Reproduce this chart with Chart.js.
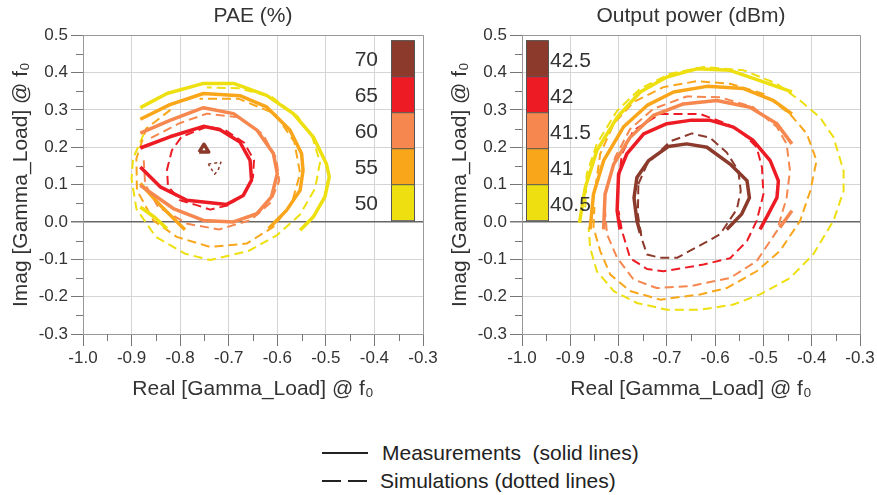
<!DOCTYPE html>
<html>
<head>
<meta charset="utf-8">
<script src="https://cdn.jsdelivr.net/npm/chart.js@4.4.0/dist/chart.umd.min.js"></script>
<style>
  html, body { margin: 0; padding: 0; background: #fff; }
  body { width: 877px; height: 495px; position: relative; overflow: hidden;
         font-family: 'Liberation Sans', Arial, sans-serif; color: #222; }
  .panel { position: absolute; top: 0; height: 410px; }
  #paeWrap { left: 0; width: 440px; }
  #poutWrap { left: 439px; width: 438px; }
  .key-line { position: absolute; border-top: 2px solid #222; }
  .key-text { position: absolute; font-size: 21px; line-height: 24px; white-space: pre; }
</style>
</head>
<body>
<div class="panel" id="paeWrap"><canvas id="paeChart" width="440" height="410"></canvas></div>
<div class="panel" id="poutWrap"><canvas id="poutChart" width="438" height="410"></canvas></div>

<div class="key-line" style="left:322px; top:452px; width:46px;"></div>
<div class="key-text" style="left:382px; top:441px;">Measurements  (solid lines)</div>
<div class="key-line" style="left:322px; top:480px; width:19px;"></div>
<div class="key-line" style="left:348px; top:480px; width:19px;"></div>
<div class="key-text" style="left:380px; top:469px;">Simulations (dotted lines)</div>

<script>
// Colour-bar labels (top to bottom)
const paeLevels = ['70', '65', '60', '55', '50'];
const poutLevels = ['42.5', '42', '41.5', '41', '40.5'];

// PAE contours [Re, Im] - measured (solid) and simulated (dashed)
const pae70Meas = [[-0.761, 0.187], [-0.741, 0.187], [-0.751, 0.208], [-0.761, 0.187]];
const pae70Sim = [[-0.742, 0.155], [-0.716, 0.160], [-0.722, 0.138], [-0.729, 0.128], [-0.742, 0.155]];
const pae65Meas = [[-0.882, 0.198], [-0.821, 0.228], [-0.752, 0.256], [-0.718, 0.247], [-0.677, 0.214], [-0.656, 0.165],
  [-0.653, 0.112], [-0.670, 0.071], [-0.704, 0.047], [-0.786, 0.058], [-0.841, 0.094], [-0.882, 0.147]];
const pae65Sim = [[-0.745, 0.255], [-0.797, 0.228], [-0.817, 0.192], [-0.827, 0.140], [-0.825, 0.095], [-0.800, 0.058],
  [-0.766, 0.045], [-0.738, 0.033], [-0.700, 0.045], [-0.668, 0.075], [-0.650, 0.120], [-0.648, 0.165], [-0.668, 0.212],
  [-0.710, 0.248], [-0.745, 0.255]];
const pae60Meas = [[-0.882, 0.238], [-0.821, 0.272], [-0.752, 0.306], [-0.690, 0.290], [-0.642, 0.246], [-0.608, 0.183],
  [-0.600, 0.129], [-0.612, 0.067], [-0.642, 0.022], [-0.690, 0.000], [-0.752, 0.004], [-0.814, 0.036], [-0.882, 0.098]];
const pae60Sim = [[-0.860, 0.225], [-0.800, 0.265], [-0.745, 0.290], [-0.680, 0.280], [-0.630, 0.235], [-0.602, 0.170],
  [-0.596, 0.110], [-0.615, 0.050], [-0.655, 0.005], [-0.720, -0.020], [-0.785, -0.005], [-0.845, 0.040], [-0.872, 0.100],
  [-0.875, 0.165]];
const pae55Meas = [[-0.882, 0.275], [-0.821, 0.314], [-0.752, 0.344], [-0.677, 0.338], [-0.622, 0.308], [-0.574, 0.246],
  [-0.550, 0.183], [-0.547, 0.138], [-0.553, 0.085], [-0.581, 0.031], [-0.618, -0.018]];
const pae55MeasLow = [[-0.882, 0.103], [-0.841, 0.045], [-0.790, -0.021]];
const pae55Sim = [[-0.820, 0.300], [-0.870, 0.250], [-0.890, 0.170], [-0.889, 0.085], [-0.855, 0.004], [-0.807, -0.040],
  [-0.738, -0.067], [-0.663, -0.058], [-0.608, -0.013], [-0.570, 0.050], [-0.553, 0.130], [-0.565, 0.215], [-0.605, 0.290],
  [-0.680, 0.330], [-0.760, 0.330]];
const pae50Meas = [[-0.882, 0.306], [-0.827, 0.344], [-0.752, 0.371], [-0.690, 0.371], [-0.622, 0.339], [-0.567, 0.290],
  [-0.526, 0.228], [-0.499, 0.156], [-0.493, 0.121], [-0.502, 0.067], [-0.526, 0.013], [-0.553, -0.022]];
const pae50MeasLow = [[-0.882, 0.040], [-0.852, 0.012], [-0.827, -0.018]];
const pae50Sim = [[-0.875, 0.235], [-0.897, 0.170], [-0.900, 0.115], [-0.890, 0.035], [-0.850, -0.040], [-0.790, -0.085],
  [-0.738, -0.102], [-0.660, -0.078], [-0.600, -0.035], [-0.553, 0.020], [-0.522, 0.090], [-0.512, 0.160], [-0.528, 0.228],
  [-0.558, 0.282], [-0.612, 0.335], [-0.680, 0.358], [-0.745, 0.360]];

// Output power contours [Re, Im]
const pout425Meas = [[-0.576, -0.020], [-0.545, 0.021], [-0.529, 0.065], [-0.534, 0.110], [-0.569, 0.155], [-0.617, 0.200],
  [-0.659, 0.209], [-0.697, 0.202], [-0.738, 0.164], [-0.762, 0.119], [-0.768, 0.065], [-0.762, 0.003], [-0.755, -0.030]];
const pout425Sim = [[-0.759, 0.101], [-0.741, 0.155], [-0.693, 0.216], [-0.648, 0.237], [-0.610, 0.225], [-0.576, 0.186],
  [-0.552, 0.137], [-0.547, 0.083], [-0.555, 0.034], [-0.590, -0.033], [-0.620, -0.055], [-0.679, -0.096], [-0.714, -0.096],
  [-0.741, -0.087], [-0.752, -0.045], [-0.760, 0.020], [-0.759, 0.101]];
const pout42Meas = [[-0.797, -0.020], [-0.803, 0.030], [-0.800, 0.128], [-0.783, 0.182], [-0.748, 0.236], [-0.700, 0.263],
  [-0.652, 0.272], [-0.610, 0.272], [-0.562, 0.254], [-0.521, 0.218], [-0.486, 0.164], [-0.469, 0.110], [-0.472, 0.065],
  [-0.490, 0.021], [-0.507, -0.020]];
const pout42Sim = [[-0.800, 0.110], [-0.793, 0.182], [-0.769, 0.245], [-0.714, 0.289], [-0.631, 0.289], [-0.576, 0.263],
  [-0.541, 0.236], [-0.514, 0.200], [-0.503, 0.146], [-0.500, 0.074], [-0.514, 0.003], [-0.534, -0.051], [-0.569, -0.097],
  [-0.624, -0.114], [-0.707, -0.132], [-0.741, -0.126], [-0.776, -0.097], [-0.793, -0.024], [-0.800, 0.030]];
const pout415Meas = [[-0.831, -0.020], [-0.828, 0.074], [-0.810, 0.155], [-0.776, 0.227], [-0.728, 0.285], [-0.666, 0.316],
  [-0.597, 0.325], [-0.528, 0.307], [-0.472, 0.263], [-0.441, 0.209]];
const pout415MeasLow = [[-0.466, -0.015], [-0.441, 0.030]];
const pout415Sim = [[-0.824, 0.092], [-0.807, 0.173], [-0.776, 0.249], [-0.728, 0.303], [-0.659, 0.336], [-0.590, 0.334],
  [-0.521, 0.307], [-0.472, 0.254], [-0.452, 0.209], [-0.445, 0.137], [-0.452, 0.065], [-0.472, -0.024], [-0.514, -0.105],
  [-0.569, -0.150], [-0.652, -0.172], [-0.721, -0.177], [-0.769, -0.154], [-0.803, -0.096], [-0.824, -0.033], [-0.828, 0.030]];
const pout41Meas = [[-0.859, -0.020], [-0.852, 0.074], [-0.831, 0.164], [-0.790, 0.254], [-0.741, 0.312], [-0.686, 0.348],
  [-0.617, 0.363], [-0.541, 0.357], [-0.479, 0.325], [-0.441, 0.289]];
const pout41Sim = [[-0.848, 0.092], [-0.838, 0.182], [-0.810, 0.263], [-0.769, 0.321], [-0.707, 0.361], [-0.638, 0.377],
  [-0.569, 0.370], [-0.500, 0.343], [-0.445, 0.289], [-0.410, 0.236], [-0.390, 0.164], [-0.403, 0.083], [-0.424, 0.003],
  [-0.466, -0.078], [-0.514, -0.132], [-0.576, -0.177], [-0.631, -0.194], [-0.714, -0.208], [-0.776, -0.185],
  [-0.817, -0.141], [-0.838, -0.078], [-0.852, -0.015], [-0.850, 0.040]];
const pout405Meas = [[-0.881, -0.002], [-0.869, 0.092], [-0.845, 0.191], [-0.803, 0.280], [-0.755, 0.348], [-0.700, 0.388],
  [-0.638, 0.410], [-0.569, 0.406], [-0.500, 0.375], [-0.441, 0.348]];
const pout405Sim = [[-0.869, 0.039], [-0.866, 0.128], [-0.845, 0.209], [-0.803, 0.298], [-0.755, 0.357], [-0.693, 0.397],
  [-0.624, 0.415], [-0.541, 0.406], [-0.472, 0.370], [-0.424, 0.325], [-0.383, 0.280], [-0.355, 0.227], [-0.334, 0.137],
  [-0.334, 0.083], [-0.355, 0.003], [-0.397, -0.087], [-0.445, -0.150], [-0.507, -0.194], [-0.562, -0.221],
  [-0.631, -0.235], [-0.700, -0.235], [-0.762, -0.217], [-0.810, -0.185], [-0.845, -0.132], [-0.859, -0.069], [-0.862, -0.015]];

// styles
const levelColors = ['#8b3a2b', '#ed1c24', '#f5874f', '#f9a61a', '#eedf10'];
const FONT = "'Liberation Sans', Arial, sans-serif";
Chart.defaults.font.family = FONT;
Chart.defaults.color = '#333';

function contour(points, color, dashed) {
  return {
    data: points.map(p => ({ x: p[0], y: p[1] })),
    showLine: true,
    borderColor: color,
    borderWidth: dashed ? 2 : 3.5,
    borderDash: dashed ? [9, 5] : [],
    borderJoinStyle: 'round',
    pointRadius: 0,
    fill: false,
    tension: 0
  };
}

// colour bar drawn inside the plot area
const colorbarPlugin = {
  id: 'colorbar',
  afterDatasetsDraw(chart, args, opts) {
    const { ctx, chartArea } = chart;
    const w = opts.side === 'right' ? 23 : 22;
    const h = 36;
    const x0 = opts.side === 'right' ? chartArea.right - 32 : chartArea.left + 4;
    const y0 = chartArea.top + 5;
    ctx.save();
    ctx.font = '21px ' + FONT;
    ctx.textBaseline = 'middle';
    opts.labels.forEach((lab, i) => {
      const y = y0 + i * h;
      ctx.fillStyle = levelColors[i];
      ctx.fillRect(x0, y, w, h);
      ctx.strokeStyle = '#555';
      ctx.lineWidth = 1;
      ctx.strokeRect(x0 + 0.5, y + 0.5, w, h);
      ctx.fillStyle = '#333';
      if (opts.side === 'right') {
        ctx.textAlign = 'right';
        ctx.fillText(lab, x0 - 13, y + h / 2 + 2);
      } else {
        ctx.textAlign = 'left';
        ctx.fillText(lab, x0 + w + 2, y + h / 2 + 3);
      }
    });
    ctx.restore();
  }
};

// short minor ticks between the labelled ones
const minorTicksPlugin = {
  id: 'minorTicks',
  afterDraw(chart) {
    const { ctx, chartArea, scales } = chart;
    const x = scales.x, y = scales.y;
    ctx.save();
    ctx.strokeStyle = '#777';
    ctx.lineWidth = 1;
    ctx.beginPath();
    for (let v = x.min + 0.05; v < x.max; v += 0.1) {
      const px = Math.round(x.getPixelForValue(v)) + 0.5;
      ctx.moveTo(px, chartArea.bottom);
      ctx.lineTo(px, chartArea.bottom + 7);
    }
    for (let v = y.min + 0.05; v < y.max; v += 0.1) {
      const py = Math.round(y.getPixelForValue(v)) + 0.5;
      ctx.moveTo(chartArea.left - 7, py);
      ctx.lineTo(chartArea.left, py);
    }
    ctx.stroke();
    ctx.restore();
  }
};

function gridColor(ctx) {
  if (!ctx.tick) return '#d4d4d4';
  const v = ctx.tick.value;
  if (Math.abs(v) < 1e-9) return '#666';
  const s = ctx.scale;
  if (Math.abs(v - s.max) < 1e-9 || Math.abs(v - s.min) < 1e-9) return '#999';
  return '#d4d4d4';
}

function makeChart(id, title, side, levels, datasets) {
  return new Chart(document.getElementById(id), {
    type: 'scatter',
    data: { datasets: datasets },
    options: {
      responsive: false,
      animation: false,
      layout: { padding: { left: 0, right: 17, top: 0, bottom: 0 } },
      plugins: {
        legend: { display: false },
        tooltip: { enabled: false },
        title: { display: true, text: title, color: '#333', fullSize: false,
                 font: { size: 21, weight: 'normal' }, padding: { top: 4, bottom: 6 } },
        colorbar: { side: side, labels: levels }
      },
      scales: {
        x: {
          type: 'linear', min: -1.0, max: -0.3,
          ticks: { stepSize: 0.1, font: { size: 17 }, color: '#333', padding: 2, maxRotation: 0, autoSkip: false,
                   callback: v => (Math.abs(v) < 1e-9 ? 0 : v).toFixed(1) },
          grid: { color: gridColor, tickColor: '#777', tickLength: 12, lineWidth: ctx => (ctx.tick && Math.abs(ctx.tick.value) < 1e-9 ? 1.5 : 1) },
          border: { color: '#999' },
          title: { display: true, text: 'Real [Gamma_Load] @ f₀', color: '#333', font: { size: 21 },
                   padding: { top: 0, bottom: 8 } },
          afterFit: s => { s.height = 76; }
        },
        y: {
          type: 'linear', min: -0.3, max: 0.5,
          ticks: { stepSize: 0.1, font: { size: 17 }, color: '#333', padding: 3, autoSkip: false,
                   callback: v => (Math.abs(v) < 1e-9 ? 0 : v).toFixed(1) },
          grid: { color: gridColor, tickColor: '#777', tickLength: 12,
                  lineWidth: ctx => (ctx.tick && Math.abs(ctx.tick.value) < 1e-9 ? 1.5 : 1) },
          border: { color: '#999' },
          title: { display: true, text: 'Imag [Gamma_Load] @ f₀', color: '#333', font: { size: 21 },
                   padding: { top: 9, bottom: 0 } },
          afterFit: s => { s.width = 83; }
        }
      }
    },
    plugins: [colorbarPlugin, minorTicksPlugin]
  });
}

// solid (measured) first so they are drawn on top of the dashed ones
const [cBrown, cRed, cSalmon, cOrange, cYellow] = levelColors;

makeChart('paeChart', 'PAE (%)', 'right', paeLevels, [
  contour(pae70Meas, cBrown, false),
  contour(pae65Meas, cRed, false),
  contour(pae60Meas, cSalmon, false),
  contour(pae55Meas, cOrange, false),
  contour(pae55MeasLow, cOrange, false),
  contour(pae50Meas, cYellow, false),
  contour(pae50MeasLow, cYellow, false),
  Object.assign(contour(pae70Sim, cBrown, true), { borderDash: [3, 3], borderWidth: 1.5 }),
  contour(pae65Sim, cRed, true),
  contour(pae60Sim, cSalmon, true),
  contour(pae55Sim, cOrange, true),
  contour(pae50Sim, cYellow, true)
]);

makeChart('poutChart', 'Output power (dBm)', 'left', poutLevels, [
  contour(pout425Meas, cBrown, false),
  contour(pout42Meas, cRed, false),
  contour(pout415Meas, cSalmon, false),
  contour(pout415MeasLow, cSalmon, false),
  contour(pout41Meas, cOrange, false),
  contour(pout405Meas, cYellow, false),
  contour(pout425Sim, cBrown, true),
  contour(pout42Sim, cRed, true),
  contour(pout415Sim, cSalmon, true),
  contour(pout41Sim, cOrange, true),
  contour(pout405Sim, cYellow, true)
]);
</script>
</body>
</html>
